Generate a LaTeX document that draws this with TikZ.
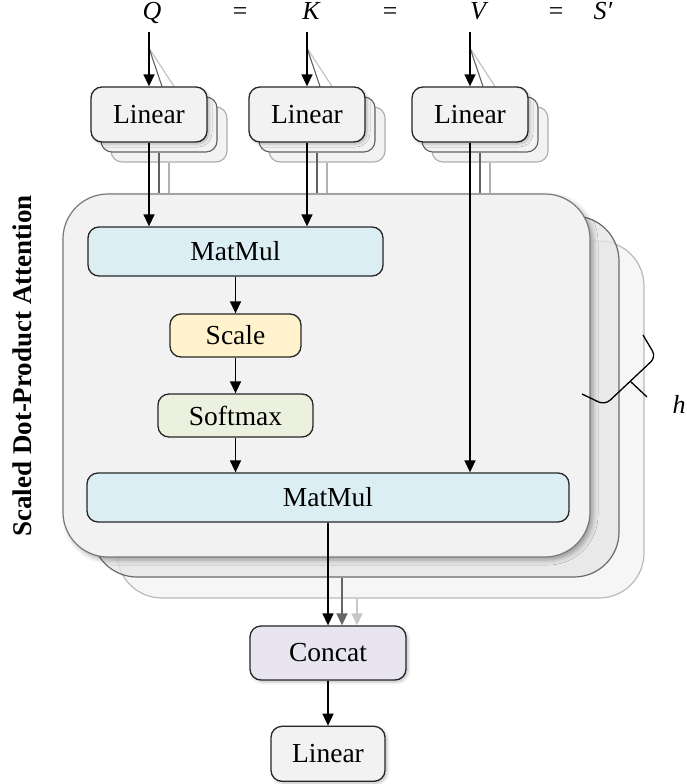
\documentclass[tikz,border=0pt]{standalone}
\usepackage{fontspec}
\setmainfont{Liberation Serif}
\usetikzlibrary{positioning,arrows.meta,shadows.blur,calc}
\usepackage{xcolor}
\definecolor{boxgray}{HTML}{F2F2F2}
\definecolor{matblue}{HTML}{DAEEF3}
\definecolor{scaleyellow}{HTML}{FFF2CC}
\definecolor{softgreen}{HTML}{EBF1DE}
\definecolor{catpurple}{HTML}{E8E5F0}
\definecolor{panelmid}{HTML}{E6E6E6}
\definecolor{panelback}{HTML}{F6F6F6}
\definecolor{edge}{HTML}{262626}

\begin{document}
\begin{tikzpicture}[x=1pt, y=-1pt,
        font=\fontsize{27.5}{33}\selectfont,
        box/.style={draw=edge, line width=1.3pt, rounded corners=11pt, inner sep=0pt},
        softshadow/.style={blur shadow={shadow xshift=2pt, shadow yshift=-2pt, shadow blur radius=3pt, shadow opacity=25}},
        linbox/.style={box, fill=boxgray, minimum width=116pt, minimum height=55pt},
        copybox/.style={linbox, line width=1.1pt},
        matbox/.style={box, fill=matblue, minimum height=49pt},
        panel/.style={rounded corners=45pt, line width=1.2pt, inner sep=0pt},
        inlabel/.style={font=\fontsize{26}{30}\selectfont\itshape, anchor=base, inner sep=0pt, text depth=0pt},
        arr/.style={-{Triangle[width=11pt,length=12pt]}, line width=1.5pt},
        grayline/.style={-, line width=1.1pt}
      ]
      \useasboundingbox (0,0) rectangle (686,784);

      % Inputs
      \node[inlabel] (Q) at (152,20) {Q};
      \node[inlabel] (eq1) at (240,20) {=};
      \node[inlabel] (K) at (311,20) {K};
      \node[inlabel] (eq2) at (390,20) {=};
      \node[inlabel] (V) at (478,20) {V};
      \node[inlabel] (eq3) at (556,20) {=};
      \node[inlabel] (S) at (603,20) {S′};

      % Heads (3 stacked panels)
      \node[panel, fill=panelback, draw=black!27, minimum width=527pt, minimum height=357pt] (panelc) at (380.5,419.5) {};
      \node[panel, fill=panelmid, fill opacity=0.8, draw=black!58, minimum width=527pt, minimum height=361pt] (panelb) at (355.5,396.5) {};
      \node[panel, fill=boxgray, draw=black!52, minimum width=527pt, minimum height=363pt,
            blur shadow={shadow xshift=3pt, shadow yshift=-3pt, shadow blur radius=5pt, shadow opacity=35}] (panel) at (326.5,375.5) {};
      \node[rotate=90, anchor=base, inner sep=0pt, font=\fontsize{27}{33}\selectfont\bfseries] (sdpa) at (31,366) {Scaled Dot-Product Attention};

      % Linear projections (one per head)
      \foreach \nm/\cx/\lab in {q/149/Q, k/307/K, v/470/V} {
        \node[copybox, draw=black!32] (lin\nm c) at (\cx+20,134.5) {};
        \node[copybox, draw=black!62] (lin\nm b) at (\cx+10,124.5) {};
        \coordinate (split\nm) at (\cx,48);
        \draw[grayline, draw=black!25] (split\nm) -- ($(lin\nm c.north)+(5,-20)$);
        \draw[grayline, draw=black!62] (split\nm) -- ($(lin\nm b.north)+(3,-10)$);
        \draw[grayline, draw=black!30] (lin\nm c.south) -- (lin\nm c.south |- panel.north);
        \draw[grayline, draw=black!62] (lin\nm b.south) -- (lin\nm b.south |- panel.north);
        \node[linbox, softshadow] (lin\nm) at (\cx,114.5) {Linear};
        \draw[arr, shorten <=12pt] (\lab.south -| lin\nm.north) -- (lin\nm.north);
      }

      % Attention
      \node[matbox, minimum width=295pt] (mm1) at (235.5,251.5) {MatMul};
      \node[box, fill=scaleyellow, minimum width=131pt, minimum height=43pt] (scale) at (235.5,335.5) {Scale};
      \node[box, fill=softgreen, minimum width=155pt, minimum height=43pt] (softmax) at (235.5,415.5) {Softmax};
      \node[matbox, minimum width=482pt] (mm2) at (328,497.5) {MatMul};

      \draw[arr] (linq.south) -- (linq.south |- mm1.north);
      \draw[arr] (link.south) -- (link.south |- mm1.north);
      \draw[arr] (linv.south) -- (linv.south |- mm2.north);
      \draw[arr] (mm1.south -| scale.north) -- (scale.north);
      \draw[arr] (scale.south) -- (softmax.north);
      \draw[arr] (softmax.south) -- (softmax.south |- mm2.north);

      % Heads count
      \draw[line width=1.3pt, rounded corners=7pt] (643,335) -- (656,357) -- (605,405) -- (582,394);
      \draw[line width=1.3pt] (630,381) -- (647,397);
      \node[inlabel] (h) at (679,413) {h};

      % Output
      \node[box, fill=catpurple, softshadow, minimum width=156pt, minimum height=54pt] (concat) at (328,653) {Concat};
      \node[linbox, softshadow, minimum width=114pt, below=45pt of concat] (linout) {Linear};
      \coordinate (catb) at ($(concat.north)+(14,0)$);
      \coordinate (catc) at ($(concat.north)+(29,0)$);

      \draw[arr] (mm2.south) -- (mm2.south |- concat.north);
      \draw[arr, draw=black!60, fill=black!60] (panelb.south -| catb) -- (catb);
      \draw[arr, draw=black!22, fill=black!22] (panelc.south -| catc) -- (catc);
      \draw[arr] (concat.south) -- (linout.north);

    \end{tikzpicture}
\end{document}
